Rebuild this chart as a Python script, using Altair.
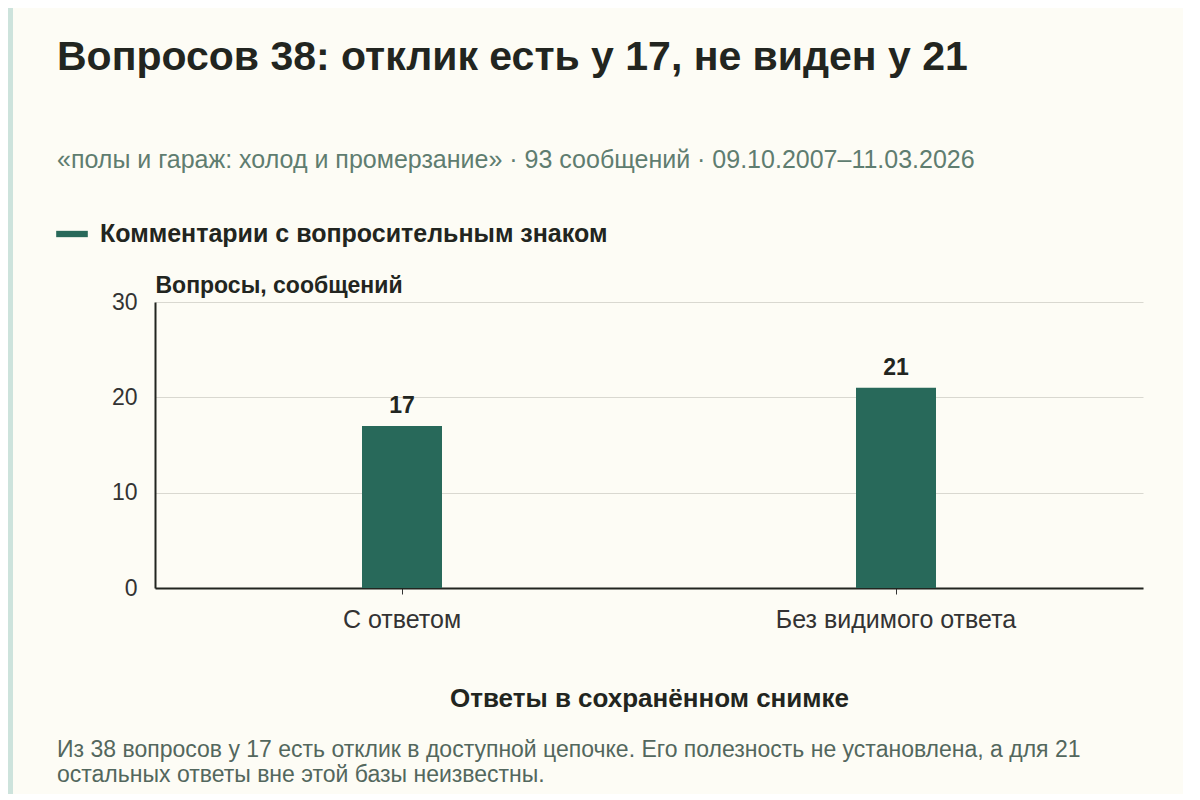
import altair as alt
import pandas as pd

# data
categories = ["С ответом", "Без видимого ответа"]
counts = [17, 21]
series_name = "Комментарии с вопросительным знаком"
footer_lines = [
    "Из 38 вопросов у 17 есть отклик в доступной цепочке. Его полезность не установлена, а для 21",
    "остальных ответы вне этой базы неизвестны.",
]

title_text = "Вопросов 38: отклик есть у 17, не виден у 21"
subtitle_text = "«полы и гараж: холод и промерзание» · 93 сообщений · 09.10.2007–11.03.2026"

FONT = "Liberation Sans"
BAR = "#28695a"
INK = "#222520"
MUTED = "#5f7d70"

df = pd.DataFrame({"cat": categories, "n": counts, "series": [series_name] * len(counts)})

base = alt.Chart(df).encode(
    x=alt.X(
        "cat:N",
        sort=categories,
        title="Ответы в сохранённом снимке",
        axis=alt.Axis(
            labelAngle=0,
            labelFontSize=25,
            labelColor="#333333",
            labelPadding=13,
            labelLimit=0,
            tickSize=6,
            tickColor="#333333",
            domainColor=INK,
            domainWidth=2,
            titleFontSize=26,
            titleFontWeight="bold",
            titleColor=INK,
            titlePadding=53,
            grid=False,
        ),
    ),
    y=alt.Y(
        "n:Q",
        scale=alt.Scale(domain=[0, 30]),
        title="Вопросы, сообщений",
        axis=alt.Axis(
            values=[0, 10, 20, 30],
            ticks=False,
            labelFontSize=23,
            labelColor="#333333",
            labelPadding=18,
            domainColor=INK,
            domainWidth=2,
            gridColor="#d9d8d0",
            titleAngle=0,
            titleAlign="left",
            titleBaseline="alphabetic",
            titleX=0,
            titleY=-10,
            titleFontSize=23,
            titleFontWeight="bold",
            titleColor=INK,
        ),
    ),
)

# thin tinted strip along the left edge of the page
strip = alt.Chart(pd.DataFrame({"k": [0]})).mark_rect(color="#cde3dc").encode(
    x=alt.value(-147), x2=alt.value(-142), y=alt.value(-294), y2=alt.value(492)
)

bars = base.mark_bar(size=80).encode(
    color=alt.Color(
        "series:N",
        scale=alt.Scale(range=[BAR]),
        legend=alt.Legend(
            title=None,
            orient="none",
            legendX=-99,
            legendY=-84,
            symbolType="M-1,-0.2H1V0.2H-1Z",
            symbolSize=1000,
            symbolStrokeWidth=0,
            labelFontSize=25,
            labelFontWeight="bold",
            labelColor=INK,
            labelOffset=12,
            labelLimit=0,
        ),
    )
)

labels = base.mark_text(baseline="bottom", dy=-8, fontSize=23, fontWeight="bold", color=INK).encode(
    text="n:Q"
)

footer = alt.Chart(pd.DataFrame({"note": ["\n".join(footer_lines)]})).mark_text(
    align="left", baseline="alphabetic", fontSize=23, color="#53675d", lineBreak="\n", lineHeight=25
).encode(text="note:N", x=alt.value(-98), y=alt.value(455))

chart = (
    alt.layer(strip, bars, labels, footer)
    .properties(
        width=988,
        height=286,
        autosize=alt.AutoSizeParams(type="none"),
        padding={"left": 147, "top": 294, "right": 40, "bottom": 206},
        background="#fdfcf5",
        title=alt.TitleParams(
            text=title_text,
            subtitle=subtitle_text,
            anchor="start",
            frame="group",
            dx=-98,
            fontSize=41,
            fontWeight="bold",
            color=INK,
            subtitleFontSize=25,
            subtitleColor=MUTED,
            subtitlePadding=69,
            offset=-166,
        ),
    )
    .configure(font=FONT)
    .configure_view(stroke=None)
)

chart.save("out.html", embed_options={"renderer": "svg", "actions": False})
